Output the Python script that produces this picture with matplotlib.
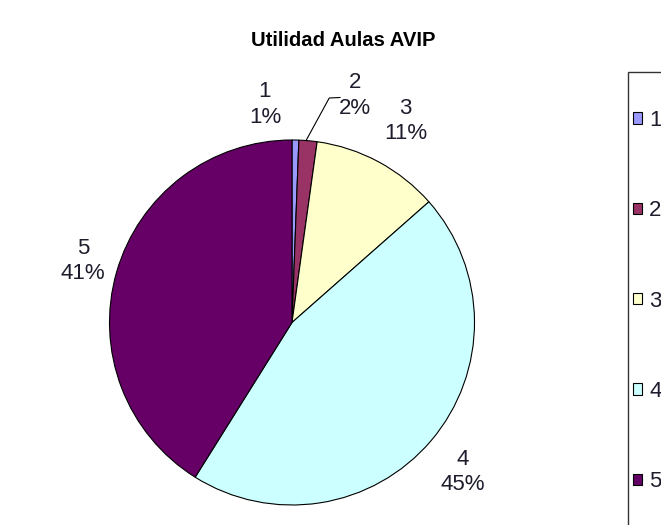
import numpy as np
import matplotlib
matplotlib.use("Agg")
import matplotlib.pyplot as plt
from matplotlib.patches import Rectangle

# survey answers (share of respondents, %)
categories = ["1", "2", "3", "4", "5"]
shares = [0.6, 1.6, 11.3, 45.4, 41.1]
slice_colors = ["#9999FF", "#993366", "#FFFFCC", "#CCFFFF", "#660066"]

# where each "n / xx%" label sits (pie radius = 1)
label_pos = [(-0.148, 1.195), (0.345, 1.244), (0.621, 1.104),
             (0.937, -0.819), (-1.145, 0.337)]

plt.rcParams['font.family'] = ['Liberation Sans', 'DejaVu Sans']

fig = plt.figure(figsize=(6.61, 5.25), dpi=100)
W, H = 661, 525
cx, cy, r = 292, 322.5, 182.5
ax = fig.add_axes([(cx - r) / W, 1 - (cy + r) / H, 2 * r / W, 2 * r / H])

wedges, _ = ax.pie(shares, colors=slice_colors, startangle=90,
                   counterclock=False, radius=1,
                   wedgeprops=dict(edgecolor='black', linewidth=0.8))
ax.set_xlim(-1, 1)
ax.set_ylim(-1, 1)
ax.set_aspect('auto')
ax.axis('off')

total = sum(shares)
for cat, val, (x, y) in zip(categories, shares, label_pos):
    ax.text(x, y, f"{cat}\n{val / total * 100:.0f}%", ha='center',
            va='center', fontsize=16, color='#1c1c2c', linespacing=1.3,
            clip_on=False)

# leader line for the thin second slice
ax.plot([0.077, 0.204, 0.263], [0.997, 1.230, 1.233], color='black',
        linewidth=0.8, clip_on=False)

fig.text(343.5 / W, 1 - 41 / H, "Utilidad Aulas AVIP", ha='center',
         va='center', fontsize=14.6, fontweight='bold')

# legend box runs off the edge of the picture
fig.patches.append(Rectangle((628 / W, -0.1), 0.2, 1 - 72 / H + 0.1,
                             transform=fig.transFigure, facecolor='none',
                             edgecolor='#333333', linewidth=1.0))
fig.legend(wedges, categories, loc='upper left',
           bbox_to_anchor=(633 / W, 1 - 110 / H), frameon=False,
           borderpad=0, borderaxespad=0, fontsize=16, handlelength=0.42,
           handleheight=0.42, handletextpad=0.3, labelspacing=3.12,
           labelcolor='#1c1c2c')

fig.savefig("out.png", dpi=100)
